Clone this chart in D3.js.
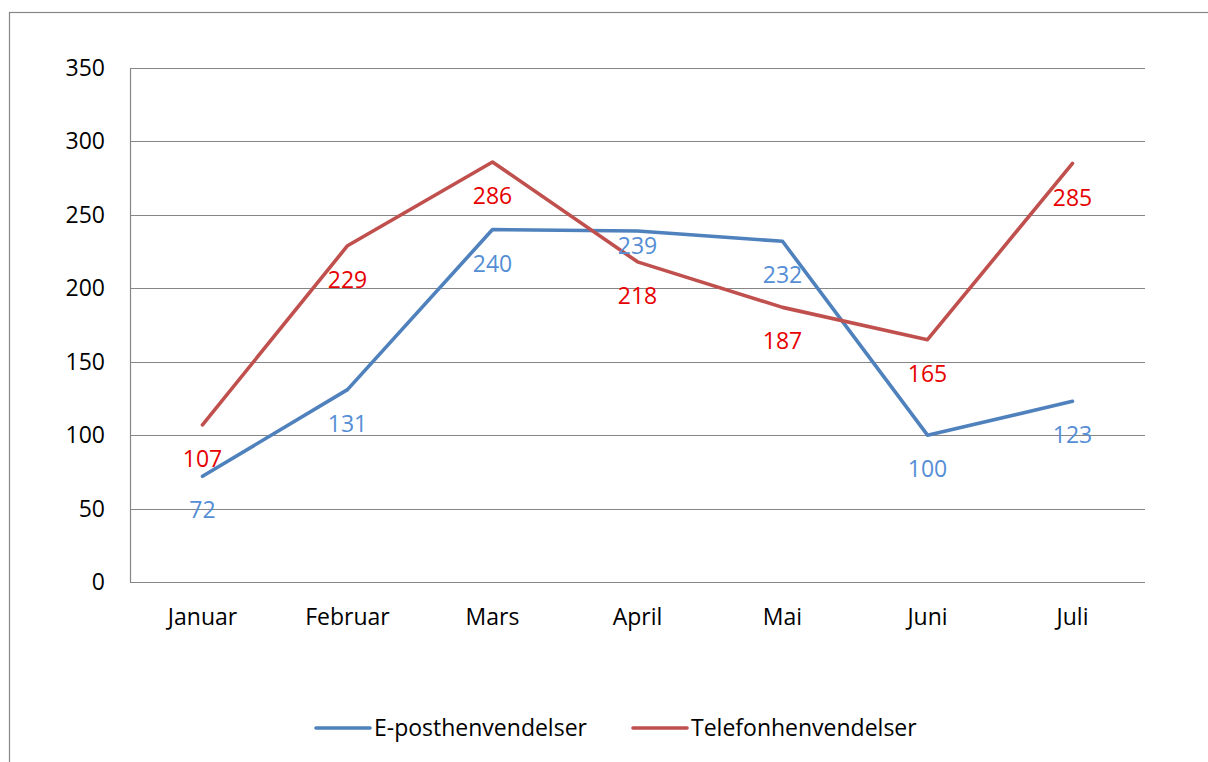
<!DOCTYPE html>
<html>
<head>
<meta charset="utf-8">
<script src="https://cdn.jsdelivr.net/npm/d3@7"></script>
<style>
  body { margin: 0; background: #fff; }
  svg text { font-family: "Open Sans", "Noto Sans", sans-serif; }
</style>
</head>
<body>
<div id="chart"></div>
<script>
var months = ["Januar", "Februar", "Mars", "April", "Mai", "Juni", "Juli"];
var epost = [72, 131, 240, 239, 232, 100, 123];
var telefon = [107, 229, 286, 218, 187, 165, 285];
var yTicks = [0, 50, 100, 150, 200, 250, 300, 350];
var seriesNames = ["E-posthenvendelser", "Telefonhenvendelser"];

var W = 1208, H = 762;
var fs = 23;
var svg = d3.select("#chart").append("svg").attr("width", W).attr("height", H);

// outer chart frame (runs off right/bottom edge like the screenshot)
svg.append("rect").attr("x", 9.5).attr("y", 12.5).attr("width", 1220).attr("height", 780)
  .attr("fill", "none").attr("stroke", "#868686").attr("stroke-width", 1.2);

var plot = { left: 130, right: 1145, top: 68, bottom: 582 };

var x = d3.scaleBand().domain(months).range([plot.left, plot.right]);
var y = d3.scaleLinear().domain([0, 350]).range([plot.bottom, plot.top]);
var cx = function(d, i) { return x(months[i]) + x.bandwidth() / 2; };

// gridlines
svg.append("g").selectAll("line").data(yTicks).enter().append("line")
  .attr("x1", plot.left).attr("x2", plot.right)
  .attr("y1", function(d) { return Math.round(y(d)) + 0.5; })
  .attr("y2", function(d) { return Math.round(y(d)) + 0.5; })
  .attr("stroke", "#868686").attr("stroke-width", 1.2);

// left axis line
svg.append("line").attr("x1", plot.left + 0.5).attr("x2", plot.left + 0.5)
  .attr("y1", plot.top).attr("y2", plot.bottom + 0.5)
  .attr("stroke", "#868686").attr("stroke-width", 1.2);

// y labels
svg.append("g").selectAll("text").data(yTicks).enter().append("text")
  .attr("x", 105).attr("y", function(d) { return y(d); })
  .attr("dy", "0.35em").attr("text-anchor", "end")
  .attr("font-size", fs).attr("fill", "#000")
  .text(function(d) { return d; });

// x labels
svg.append("g").selectAll("text").data(months).enter().append("text")
  .attr("x", function(d) { return x(d) + x.bandwidth() / 2; })
  .attr("y", 617).attr("dy", "0.35em").attr("text-anchor", "middle")
  .attr("font-size", fs).attr("fill", "#000")
  .text(function(d) { return d; });

var series = [
  { name: seriesNames[0], values: epost, color: "#4f81bd", labelColor: "#558ed5", nudge: { 3: -19 } },
  { name: seriesNames[1], values: telefon, color: "#c0504d", labelColor: "#e60000", nudge: {} }
];

var line = d3.line().x(cx).y(function(d) { return y(d); });

series.forEach(function(s) {
  svg.append("path").datum(s.values).attr("d", line)
    .attr("fill", "none").attr("stroke", s.color).attr("stroke-width", 3.6)
    .attr("stroke-linejoin", "round").attr("stroke-linecap", "round");
});

// data labels, drawn below each point
series.forEach(function(s) {
  svg.append("g").selectAll("text").data(s.values).enter().append("text")
    .attr("x", cx)
    .attr("y", function(d, i) { return y(d) + 34 + (s.nudge[i] || 0); })
    .attr("dy", "0.35em").attr("text-anchor", "middle")
    .attr("font-size", fs).attr("fill", s.labelColor)
    .text(function(d) { return d; });
});

// legend
var legendX = [316, 633];
var lg = svg.append("g").selectAll("g").data(series).enter().append("g")
  .attr("transform", function(d, i) { return "translate(" + legendX[i] + ",728)"; });
lg.append("line").attr("x1", 0).attr("x2", 54).attr("y1", 0).attr("y2", 0)
  .attr("stroke", function(d) { return d.color; }).attr("stroke-width", 3.6)
  .attr("stroke-linecap", "round");
lg.append("text").attr("x", 58).attr("y", 0).attr("dy", "0.35em")
  .attr("font-size", fs).attr("fill", "#000")
  .text(function(d) { return d.name; });
</script>
</body>
</html>
